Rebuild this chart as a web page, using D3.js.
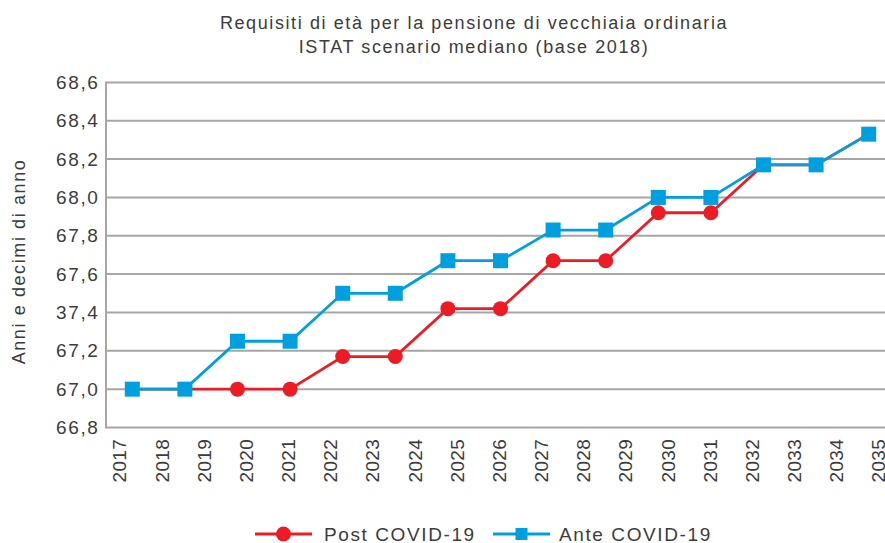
<!DOCTYPE html>
<html>
<head>
	<meta charset="utf-8">
	<title>Requisiti di età per la pensione di vecchiaia</title>
	<script src="https://d3js.org/d3.v7.min.js"></script>
	<style type="text/css">
		body {
			margin: 0;
			background: #fff;
		}
		svg {
			display: block;
			font-family: "Liberation Sans", Arial, sans-serif;
		}
		.grid line {
			stroke: #a6a6a6;
			stroke-width: 2;
		}
		.tick-label {
			font-size: 19px;
			fill: #3c3c3c;
			letter-spacing: 1.6px;
		}
		.axis-title {
			font-size: 18px;
			fill: #3c3c3c;
			letter-spacing: 1.6px;
		}
		.year-label {
			font-size: 19px;
			fill: #3c3c3c;
			letter-spacing: 0.3px;
		}
		.title {
			font-size: 18px;
			fill: #3c3c3c;
			letter-spacing: 1.6px;
		}
	</style>
</head>
<body>

<div id="chart"></div>

<script>
	// data
	var titleLines = ["Requisiti di età per la pensione di vecchiaia ordinaria", "ISTAT scenario mediano (base 2018)"];
	var yTitle = "Anni e decimi di anno";
	var years = ["2017","2018","2019","2020","2021","2022","2023","2024","2025","2026","2027","2028","2029","2030","2031","2032","2033","2034","2035"];
	var yTicks = [66.8, 67.0, 67.2, 67.4, 67.6, 67.8, 68.0, 68.2, 68.4, 68.6];
	var yTickLabels = ["66,8","67,0","67,2","37,4","67,6","67,8","68,0","68,2","68,4","68,6"];
	var postCovid = [67.0, 67.0, 67.0, 67.0, 67.17, 67.17, 67.42, 67.42, 67.67, 67.67, 67.92, 67.92, 68.17, 68.17, 68.33];
	var anteCovid = [67.0, 67.0, 67.25, 67.25, 67.5, 67.5, 67.67, 67.67, 67.83, 67.83, 68.0, 68.0, 68.17, 68.17, 68.33];
	var seriesNames = ["Post COVID-19", "Ante COVID-19"];
	var seriesColors = ["#ed1c24", "#009fdf"];

	var width = 885, height = 543;
	var plot = {left: 106, right: 895, top: 82.4, bottom: 427.5};

	var svg = d3.select("#chart").append("svg")
		.attr("width", width)
		.attr("height", height);

	var y = d3.scaleLinear()
		.domain([66.8, 68.6])
		.range([plot.bottom, plot.top]);

	// the points sit on their own slots, the year labels on theirs
	var xPts = d3.scaleBand()
		.domain(d3.range(anteCovid.length))
		.range([plot.left, plot.right]);

	var xYears = d3.scalePoint()
		.domain(years)
		.range([119.5, 878.6]);

	// title
	svg.selectAll(".title")
		.data(titleLines)
		.enter()
		.append("text")
		.attr("class", "title")
		.attr("x", 474)
		.attr("y", function(d, i){ return 29 + i * 24; })
		.attr("text-anchor", "middle")
		.text(function(d){ return d; });

	// grid
	var grid = svg.append("g").attr("class", "grid");
	grid.selectAll("line.h")
		.data(yTicks)
		.enter()
		.append("line")
		.attr("class", "h")
		.attr("x1", plot.left)
		.attr("x2", plot.right)
		.attr("y1", function(d){ return y(d); })
		.attr("y2", function(d){ return y(d); });
	grid.append("line")
		.attr("x1", plot.left).attr("x2", plot.left)
		.attr("y1", plot.top - 1).attr("y2", plot.bottom + 1);

	// y labels
	svg.selectAll(".tick-label.y")
		.data(yTicks)
		.enter()
		.append("text")
		.attr("class", "tick-label y")
		.attr("x", 99.5)
		.attr("y", function(d){ return y(d); })
		.attr("dy", "0.34em")
		.attr("text-anchor", "end")
		.text(function(d, i){ return yTickLabels[i]; });

	svg.append("text")
		.attr("class", "axis-title")
		.attr("transform", "translate(18.5,261.5) rotate(-90)")
		.attr("dy", "0.35em")
		.attr("text-anchor", "middle")
		.text(yTitle);

	// x labels
	svg.selectAll(".year-label")
		.data(years)
		.enter()
		.append("text")
		.attr("class", "year-label")
		.attr("transform", function(d){ return "translate(" + xYears(d) + ",439) rotate(-90)"; })
		.attr("dy", "0.36em")
		.attr("text-anchor", "end")
		.text(function(d){ return d; });

	var cx = function(i){ return xPts(i) + xPts.bandwidth() / 2; };

	var line = d3.line()
		.x(function(d, i){ return cx(i); })
		.y(function(d){ return y(d); });

	// Post COVID first, Ante on top
	svg.append("path")
		.datum(postCovid)
		.attr("d", line)
		.attr("fill", "none")
		.attr("stroke", seriesColors[0])
		.attr("stroke-width", 2.8);

	// red markers only where they are not hidden under the blue ones
	var postIdx = d3.range(postCovid.length).filter(function(i){ return postCovid[i] !== anteCovid[i]; });
	svg.selectAll(".dot")
		.data(postIdx)
		.enter()
		.append("circle")
		.attr("class", "dot")
		.attr("cx", function(i){ return cx(i); })
		.attr("cy", function(i){ return y(postCovid[i]); })
		.attr("r", 7.5)
		.attr("fill", seriesColors[0]);

	svg.append("path")
		.datum(anteCovid)
		.attr("d", line)
		.attr("fill", "none")
		.attr("stroke", seriesColors[1])
		.attr("stroke-width", 2.8);

	svg.selectAll(".sq")
		.data(anteCovid)
		.enter()
		.append("rect")
		.attr("class", "sq")
		.attr("x", function(d, i){ return cx(i) - 7.5; })
		.attr("y", function(d){ return y(d) - 7.5; })
		.attr("width", 15)
		.attr("height", 15)
		.attr("fill", seriesColors[1]);

	// legend
	var legendX = [255, 493];
	var legend = svg.selectAll(".legend")
		.data(seriesNames)
		.enter()
		.append("g")
		.attr("class", "legend")
		.attr("transform", function(d, i){ return "translate(" + legendX[i] + ",534)"; });

	legend.append("line")
		.attr("x1", 0).attr("x2", 57)
		.attr("stroke", function(d, i){ return seriesColors[i]; })
		.attr("stroke-width", 2.8);

	legend.filter(function(d, i){ return i === 0; })
		.append("circle")
		.attr("cx", 28.5)
		.attr("r", 7.5)
		.attr("fill", seriesColors[0]);

	legend.filter(function(d, i){ return i === 1; })
		.append("rect")
		.attr("x", 22.5).attr("y", -6)
		.attr("width", 12).attr("height", 12)
		.attr("fill", seriesColors[1]);

	legend.append("text")
		.attr("class", "tick-label")
		.attr("x", function(d, i){ return i === 0 ? 69 : 66; })
		.attr("dy", "0.36em")
		.text(function(d){ return d; });
</script>

</body>
</html>
